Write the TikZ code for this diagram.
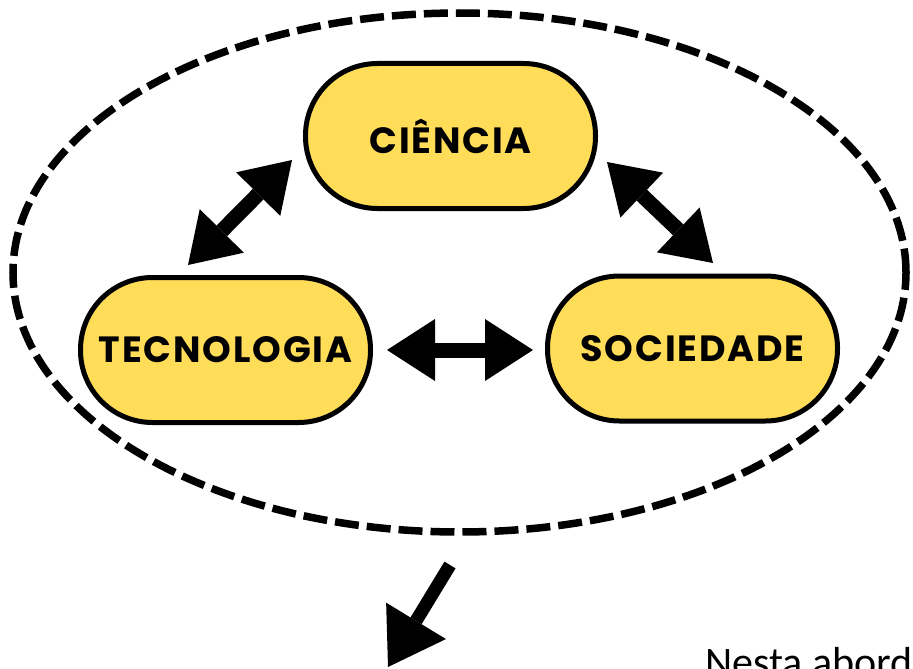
\documentclass[tikz,border=0pt]{standalone}
\usepackage{fontspec}
\usetikzlibrary{arrows.meta,shapes.geometric}
\newfontfamily\boxfont{Poppins}[LetterSpace=5]
\newfontfamily\bodyfont{Carlito}
\definecolor{boxyellow}{RGB}{255,221,88}
\tikzset{
  pill/.style={draw=black, line width=5pt, fill=boxyellow, rectangle,
    rounded corners=72pt, minimum width=290pt, minimum height=145pt,
    inner sep=0pt, font=\boxfont\bfseries\fontsize{36.5}{40}\selectfont},
  dblarrow/.style={line width=15pt,
    {Triangle[length=48pt,width=62pt,line width=0pt]}-{Triangle[length=48pt,width=62pt,line width=0pt]}},
  onearrow/.style={line width=13pt, -{Triangle[length=54pt,width=70pt,line width=0pt]}},
  enclosure/.style={draw=black, line width=7.5pt, dash pattern=on 24pt off 8pt,
    ellipse, inner sep=0pt, minimum width=893pt, minimum height=519pt}
}
\begin{document}
\begin{tikzpicture}[x=1pt,y=-1pt]
\useasboundingbox (0,0) rectangle (913,669);
\clip (0,0) rectangle (913,669);
\node[enclosure] (grp) at (459.5,272.5) {};
\node[pill] (cie) at (450.5,136) {CIÊNCIA};
\node[pill] (tec) at (225.5,350) {TECNOLOGIA};
\node[pill] (soc) at (692.5,348.5) {SOCIEDADE};
\coordinate (tlA) at (292,160);
\coordinate (tlB) at (188,265);
\coordinate (trA) at (607,162);
\coordinate (trB) at (713,263);
\coordinate (hA) at (387,350);
\coordinate (hB) at (533,350);
\coordinate (dA) at (450,565);
\coordinate (dB) at (388,667);
\draw[dblarrow] (tlA) -- (tlB);
\draw[dblarrow] (trA) -- (trB);
\draw[dblarrow] (hA) -- (hB);
\draw[onearrow] (dA) -- (dB);
\node[anchor=base west, inner sep=0pt, font=\bodyfont\fontsize{42}{48}\selectfont] (txt) at (705,676) {Nesta abord};
\end{tikzpicture}
\end{document}
